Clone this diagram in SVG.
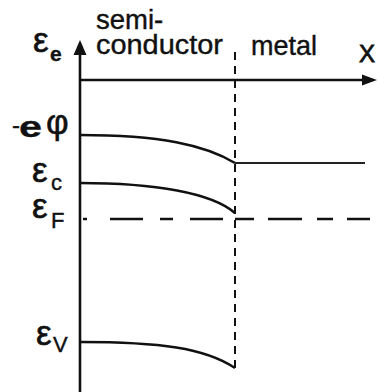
<svg xmlns="http://www.w3.org/2000/svg" width="378" height="392" viewBox="0 0 378 392">
<style>
.lbl{font-family:"Liberation Sans",Arial,sans-serif;font-size:27.5px;fill:#111;stroke:#111;stroke-width:0.4}
.eps{font-family:"Liberation Sans",Arial,sans-serif;font-size:35px;fill:#111;stroke:#111;stroke-width:0.6}
.sub{font-family:"Liberation Sans",Arial,sans-serif;font-size:22px;stroke-width:0.4}
.ln{fill:none;stroke:#111;stroke-width:2.6}
</style>
<rect width="378" height="392" fill="#fff"/>
<g id="connectors">
  <line id="y-axis" class="ln" x1="80" y1="392" x2="80" y2="52" stroke-width="2.8"/>
  <polygon points="80,40 73.5,55 86.5,55" fill="#111"/>
  <line class="ln" x1="80" y1="80" x2="235" y2="80" stroke-width="3"/>
  <line class="ln" x1="235" y1="80" x2="365" y2="80" stroke-width="2.2"/>
  <polygon points="377,80 362,74.5 362,85.5" fill="#111"/>
  <line id="interface" x1="235" y1="52" x2="235" y2="370" stroke="#111" stroke-width="2" stroke-dasharray="8,6"/>
  <path id="ephi" class="ln" d="M80,135 C160,135 205,145 235,163"/>
  <line id="metal-level" x1="235" y1="163" x2="365" y2="163" stroke="#222" stroke-width="2.2"/>
  <path id="ec" class="ln" d="M80,183 C155,183 212,193 235,213" stroke-width="3"/>
  <path id="ef" class="ln" stroke-width="3" d="M83,219H87M110,219H143M160,219H173M190,219H223M235,219H254M268,219H302M317,219H333M347,219H370"/>
  <path id="ev" class="ln" d="M80,342 C160,342 205,348 235,368" stroke-width="3"/>
</g>
<g id="label-semiconductor">
  <text class="lbl"><tspan x="96" y="29">semi-</tspan><tspan x="96" y="54" textLength="127" lengthAdjust="spacingAndGlyphs">conductor</tspan></text>
</g>
<g id="label-metal"><text class="lbl" x="251" y="55" textLength="66" lengthAdjust="spacingAndGlyphs">metal</text></g>
<g id="label-x"><text class="lbl" x="359" y="62" style="font-size:24px;stroke-width:0.8">X</text></g>
<g id="label-ee">
  <text class="eps" x="33" y="52">ε<tspan class="sub" x="50" y="61" style="font-size:21px;font-weight:bold">e</tspan></text>
</g>
<g id="label-ephi">
  <text class="lbl" style="font-size:24px"><tspan x="12" y="133">-</tspan><tspan x="19" y="137" textLength="23" lengthAdjust="spacingAndGlyphs" style="font-size:29px;font-weight:bold;stroke-width:0.3">e</tspan><tspan x="46" y="134" style="font-size:35px;stroke-width:0.5">φ</tspan></text>
</g>
<g id="label-ec">
  <text class="eps" x="32" y="182">ε<tspan class="sub" x="51" y="190">c</tspan></text>
</g>
<g id="label-ef">
  <text class="eps" x="32" y="218">ε<tspan class="sub" x="51" y="228">F</tspan></text>
</g>
<g id="label-ev">
  <text class="eps" x="36" y="345">ε<tspan class="sub" x="53" y="352">V</tspan></text>
</g>
</svg>
